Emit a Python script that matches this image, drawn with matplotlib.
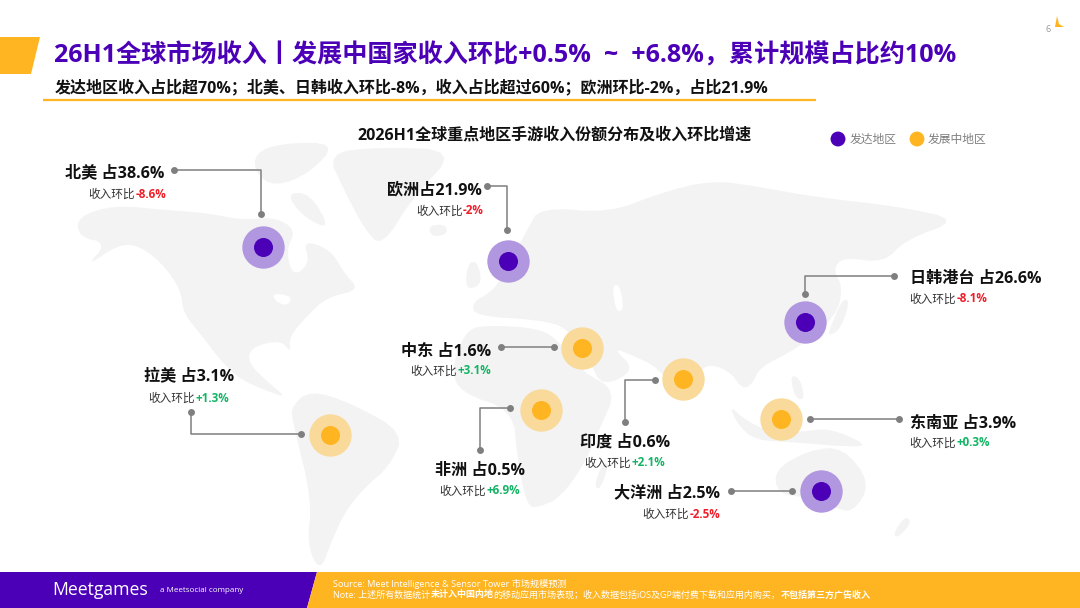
import matplotlib
matplotlib.use('Agg')
import matplotlib.pyplot as plt
from matplotlib.patches import Polygon

plt.rcParams['font.family'] = ['Open Sans', 'Noto Sans CJK SC', 'DejaVu Sans']

PURPLE = '#4B00B8'
ORANGE = '#FFB522'
PURPLE_L = '#B197DF'
ORANGE_L = '#F9DA9B'
LAND = '#F3F3F3'
GREY = '#7F7F7F'
RED = '#F01C28'
GREEN = '#12B564'

# data
regions = ['北美', '欧洲', '日韩港台', '中东', '印度', '非洲', '东南亚', '拉美', '大洋洲']
shares = [38.6, 21.9, 26.6, 1.6, 0.6, 0.5, 3.9, 3.1, 2.5]
changes = ['-8.6%', '-2%', '-8.1%', '+3.1%', '+2.1%', '+6.9%', '+0.3%', '+1.3%', '-2.5%']
developed = [True, True, True, False, False, False, False, False, True]
header_sep = [' 占', '占', ' 占', ' 占', ' 占', ' 占', ' 占', ' 占', ' 占']

# layout, in pixels of the slide
bubble_xy = [(263, 247), (508, 261), (805, 322), (582, 348), (683, 379),
             (541, 410), (781, 419), (330, 435), (821, 491)]
leaders = [[(174, 170), (261, 170), (261, 214)],
           [(487, 186), (507, 186), (507, 230)],
           [(894, 276), (805, 276), (805, 294)],
           [(501, 347), (554, 347)],
           [(655, 380), (625, 380), (625, 422)],
           [(510, 408), (480, 408), (480, 450)],
           [(899, 419), (810, 419)],
           [(191, 412), (191, 434), (301, 434)],
           [(731, 491), (792, 491)]]
header_xy = [(65, 173.5), (387, 190.5), (910, 278.5), (401, 351.5), (580, 442.5),
             (435, 470.5), (910, 423.5), (144, 377.5), (614, 493.5)]
sub_xy = [(88.5, 194), (416, 211), (909.5, 299), (410.5, 371), (584.5, 463),
          (439.5, 491), (909.5, 443), (148.5, 398), (642.5, 514)]

# background map outlines (rough traces)
north_america = [(77, 217), (114, 205), (165, 210), (207, 213), (241, 220), (275, 217), (296, 230),
                 (286, 250), (293, 277), (310, 263), (303, 240), (331, 250), (344, 273), (360, 290),
                 (327, 297), (306, 317), (289, 337), (291, 353), (281, 340), (251, 347), (248, 363),
                 (269, 383), (286, 397), (272, 393), (241, 380), (220, 360), (203, 337), (183, 313),
                 (181, 290), (162, 263), (138, 245), (117, 245), (86, 267), (107, 243), (79, 237)]
arctic = [(255, 153), (282, 143), (337, 143), (310, 173), (275, 187), (255, 173)]
baffin = [(286, 193), (310, 193), (331, 230), (303, 217)]
greenland = [(327, 153), (379, 147), (458, 150), (413, 197), (382, 247), (365, 230), (344, 190)]
south_america = [(310, 390), (351, 403), (405, 433), (389, 467), (365, 487), (344, 513), (331, 543),
                 (320, 572), (307, 545), (312, 500), (293, 423), (291, 407)]
africa = [(482, 325), (540, 328), (561, 343), (582, 372), (617, 390), (599, 430), (585, 463),
          (561, 497), (540, 507), (527, 507), (517, 457), (513, 410), (461, 393), (451, 370), (465, 332)]
eurasia = [(660, 193), (712, 180), (760, 187), (815, 197), (902, 207), (960, 220), (905, 240),
           (884, 263), (843, 257), (833, 270), (843, 287), (836, 317), (795, 350), (760, 367),
           (753, 383), (743, 390), (729, 370), (702, 363), (685, 400), (657, 367), (636, 357),
           (612, 347), (636, 370), (602, 387), (590, 362), (568, 328), (540, 320), (475, 316),
           (472, 303), (489, 293), (499, 283), (527, 230), (540, 207), (609, 213)]
uk = [(468, 262), (478, 262), (482, 285), (465, 290)]
iceland = [(428, 226), (445, 224), (448, 234), (432, 237)]
japan = [(843, 298), (850, 302), (840, 330), (828, 336), (830, 328)]
indonesia = [(729, 405), (745, 420), (770, 432), (800, 432), (830, 428), (868, 445), (850, 447),
             (790, 442), (755, 440), (738, 425)]
philippines = [(790, 375), (800, 378), (805, 400), (795, 398)]
madagascar = [(603, 462), (609, 465), (600, 490), (594, 486)]
australia = [(774, 470), (809, 450), (843, 447), (871, 483), (853, 513), (833, 507), (805, 497), (778, 494)]
new_zealand = [(905, 516), (912, 522), (898, 538), (893, 534)]
land = [north_america, arctic, baffin, greenland, south_america, africa, eurasia, uk, iceland,
        japan, indonesia, philippines, madagascar, australia, new_zealand]
caspian = [(612, 285), (620, 285), (624, 310), (616, 312)]
great_lakes = [(272, 293), (292, 296), (288, 306), (276, 302)]

fig = plt.figure(figsize=(10.8, 6.08), dpi=100)
ax = fig.add_axes([0, 0, 1, 1])
ax.set_xlim(0, 1080)
ax.set_ylim(608, 0)
ax.axis('off')
renderer = fig.canvas.get_renderer()


def smooth(pts, passes=2):
    # corner cutting so the traced outlines look less angular
    for _ in range(passes):
        out = []
        for a, b in zip(pts, pts[1:] + pts[:1]):
            out.append((0.75*a[0] + 0.25*b[0], 0.75*a[1] + 0.25*b[1]))
            out.append((0.25*a[0] + 0.75*b[0], 0.25*a[1] + 0.75*b[1]))
        pts = out
    return pts


def runs(x, y, parts, size, z=6):
    # draw (text, colour, weight) pieces one after the other
    for s, c, w in parts:
        t = ax.text(x, y, s, color=c, fontsize=size, fontweight=w, ha='left', va='center', zorder=z)
        x = t.get_window_extent(renderer).x1 + 0.3


for poly in land:
    ax.add_patch(Polygon(smooth(poly), closed=True, fc=LAND, ec='none', zorder=1))
for poly in [caspian, great_lakes]:
    ax.add_patch(Polygon(smooth(poly), closed=True, fc='white', ec='none', zorder=2))

# header
ax.add_patch(Polygon([(0, 37), (40, 37), (31, 74), (0, 74)], fc=ORANGE, ec='none'))
ax.text(54, 56, '26H1全球市场收入丨发展中国家收入环比+0.5%  ~  +6.8%，累计规模占比约10%',
        color=PURPLE, fontsize=18.1, fontweight='bold', va='center')
ax.text(55, 88, '发达地区收入占比超70%；北美、日韩收入环比-8%，收入占比超过60%；欧洲环比-2%，占比21.9%',
        color='#111111', fontsize=11.55, fontweight='bold', va='center')
ax.plot([43, 816], [99.5, 99.5], color=ORANGE, lw=1.6, solid_capstyle='butt')
ax.text(1048, 29, '6', color='#999999', fontsize=6.5, ha='center', va='center')
ax.add_patch(Polygon([(1055, 27), (1057, 16), (1059, 24), (1064, 27)], fc=ORANGE, ec='none'))

ax.text(554, 135.5, '2026H1全球重点地区手游收入份额分布及收入环比增速', color='#111111',
        fontsize=11.55, fontweight='bold', ha='center', va='center')
ax.scatter([838, 917], [139, 139], s=115, c=[PURPLE, ORANGE], linewidths=0, zorder=5)
ax.text(850, 139, '发达地区', color=GREY, fontsize=8.5, va='center')
ax.text(928, 139, '发展中地区', color=GREY, fontsize=8.5, va='center')

# regions
for i, name in enumerate(regions):
    xs = [p[0] for p in leaders[i]]
    ys = [p[1] for p in leaders[i]]
    ax.plot(xs, ys, color=GREY, lw=1.1, zorder=3)
    ax.plot([xs[0], xs[-1]], [ys[0], ys[-1]], 'o', color=GREY, ms=5, mew=0, zorder=4)
    bx, by = bubble_xy[i]
    ax.scatter(bx, by, s=30.5**2, color=PURPLE_L if developed[i] else ORANGE_L, linewidths=0, zorder=4)
    ax.scatter(bx, by, s=13.7**2, color=PURPLE if developed[i] else ORANGE, linewidths=0, zorder=5)
    hx, hy = header_xy[i]
    ax.text(hx, hy, f'{name}{header_sep[i]}{shares[i]}%', color='#111111', fontsize=11.6,
            fontweight='bold', va='center', zorder=6)
    sx, sy = sub_xy[i]
    col = GREEN if changes[i].startswith('+') else RED
    runs(sx, sy, [('收入环比', '#333333', 'normal'), (changes[i], col, 'bold')], 8.4)

# footer
ax.add_patch(Polygon([(0, 572), (317, 572), (307, 608), (0, 608)], fc=PURPLE, ec='none', zorder=7))
ax.add_patch(Polygon([(317, 572), (1080, 572), (1080, 608), (307, 608)], fc=ORANGE, ec='none', zorder=7))
ax.text(52, 590, 'Meetgames', color='white', fontsize=12.7, va='center', zorder=8)
ax.text(160, 590, 'a Meetsocial company', color='white', fontsize=5.8, va='center', zorder=8)
ax.text(333, 583.5, 'Source: Meet Intelligence & Sensor Tower 市场规模预测', color='white',
        fontsize=6.6, va='center', zorder=8)
note = [('Note: 上述所有数据统计', 'white', 'normal'), ('未计入中国内地', 'white', 'bold'),
        ('的移动应用市场表现；收入数据包括iOS及GP端付费下载和应用内购买，', 'white', 'normal'),
        ('不包括第三方广告收入', 'white', 'bold')]
runs(333, 595, note, 6.5, z=8)

fig.savefig('out.png', dpi=100)
